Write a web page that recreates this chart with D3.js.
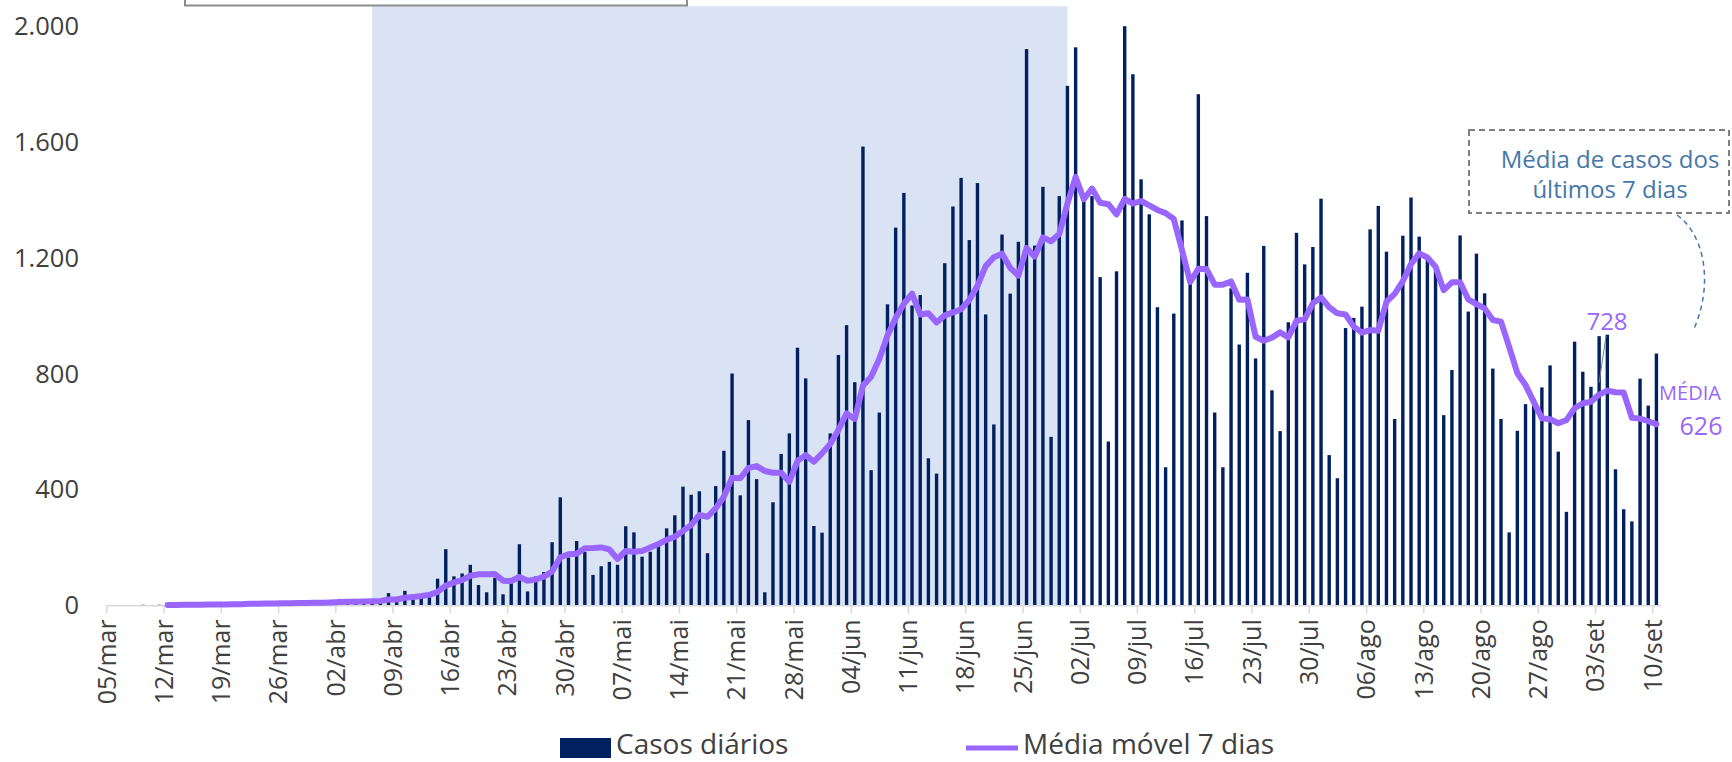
<!DOCTYPE html>
<html><head><meta charset="utf-8">
<script src="https://cdn.jsdelivr.net/npm/d3@7"></script>
<style>body{margin:0;background:#fff;} svg{display:block;font-family:'Open Sans',sans-serif;}</style>
</head><body><svg id="c" width="1732" height="762"></svg>
<script>
// ---- data ----
const startDate = '2020-03-05';
const dailyCases = [
0,1,0,0,2,1,2,1,3,2,
4,2,5,3,6,4,7,5,8,6,
9,7,12,8,10,11,14,9,22,10,
14,18,12,20,42,25,50,38,38,40,
92,194,100,110,140,70,45,95,38,88,
211,48,100,115,218,373,165,222,185,105,
135,150,140,273,252,168,185,216,266,311,
410,382,394,180,412,534,801,380,640,436,
45,356,523,594,890,784,274,251,594,865,
968,771,1585,467,666,1040,1305,1425,1036,1072,
508,455,1182,1378,1477,1262,1459,1005,625,1281,
1077,1256,1922,1243,1446,582,1414,1795,1928,1411,
1414,1134,566,1154,2001,1835,1472,1351,1030,477,
1008,1330,1111,1766,1345,666,477,1095,901,1149,
853,1242,743,602,978,1287,1178,1238,1405,519,
439,958,993,1032,1299,1380,1222,644,1277,1409,
1274,1200,1156,657,813,1278,1015,1215,1078,818,
644,252,603,695,715,753,829,531,323,911,
807,755,930,935,470,332,290,783,690,870];
const movingAvg = [
null,null,null,null,null,null,null,1,1,2,
2,2,3,3,3,4,4,5,5,6,
6,7,7,8,8,9,9,10,11,12,
12,13,14,15,20,20,26,29,32,36,
46,68,79,87,102,107,107,108,85,84,
98,85,89,99,117,166,176,178,197,198,
200,193,160,188,185,188,200,212,226,237,
257,277,312,306,335,375,441,439,475,481,
464,458,458,427,499,519,496,525,557,606,
663,644,759,790,851,932,993,1042,1077,1005,
1009,977,1002,1012,1023,1055,1104,1172,1203,1215,
1166,1139,1234,1205,1271,1258,1283,1388,1480,1403,
1440,1391,1386,1351,1404,1388,1397,1382,1366,1355,
1335,1228,1117,1163,1162,1108,1108,1119,1056,1057,
928,914,925,943,926,983,988,1043,1064,1030,
1009,1005,963,942,951,949,1049,1076,1120,1179,
1216,1202,1170,1089,1116,1116,1057,1041,1026,986,
980,893,802,761,703,646,643,629,640,681,
698,703,728,742,736,735,648,645,636,626];
const xTickLabels = ['05/mar','12/mar','19/mar','26/mar','02/abr','09/abr','16/abr','23/abr','30/abr',
'07/mai','14/mai','21/mai','28/mai','04/jun','11/jun','18/jun','25/jun','02/jul','09/jul','16/jul',
'23/jul','30/jul','06/ago','13/ago','20/ago','27/ago','03/set','10/set'];
const yTicks = [0,400,800,1200,1600,2000];
const seriesNames = ['Casos diários','Média móvel 7 dias'];
const shadedPeriod = ['2020-04-06','2020-06-30'];
const noteLines = ['Média de casos dos','últimos 7 dias'];
const markedAvg = {date:'2020-09-03', text:'728'};
const lastAvgLabel = ['MÉDIA','626'];

// ---- setup ----
const svg = d3.select('#c');
const DAY = 864e5;
const t0 = new Date(startDate + 'T00:00:00Z');
const days = dailyCases.map((v,i)=> new Date(t0.getTime() + i*DAY));
const x = d3.scaleUtc().domain([t0, new Date(t0.getTime()+dailyCases.length*DAY)]).range([106.3, 1660.5]);
const xc = d => x(new Date(d.getTime()+DAY/2));
const y = d3.scaleLinear().domain([0,2000]).range([605.3, 26.5]);
const purple = '#9966FF', navy = '#002060', txt = '#404040';
const fmt = d3.formatLocale({decimal:',',thousands:'.',grouping:[3],currency:['R$','']}).format(',');

// shaded period
const s0 = new Date(shadedPeriod[0]+'T12:00:00Z'), s1 = new Date(shadedPeriod[1]+'T12:00:00Z');
svg.append('rect').attr('x', x(s0)).attr('width', x(s1)-x(s0))
  .attr('y', y(2070)).attr('height', y(0)-y(2070)).attr('fill','#DAE3F3');

// cut-off box at top
svg.append('rect').attr('x',185).attr('y',-20).attr('width',502).attr('height',25.5)
  .attr('fill','none').attr('stroke','#8c8c8c').attr('stroke-width',2);

// bars
svg.append('g').selectAll('rect').data(dailyCases).join('rect')
  .attr('x',(v,i)=>xc(days[i])-1.7).attr('width',3.4)
  .attr('y',v=>y(v)).attr('height',v=>y(0)-y(v)).attr('fill',navy);

// x axis
const tickDates = xTickLabels.map((l,i)=> new Date(t0.getTime()+i*7*DAY));
const gx = svg.append('g').attr('transform',`translate(0,${y(0)})`)
  .call(d3.axisBottom(x).tickValues(tickDates).tickFormat((d,i)=>xTickLabels[i]).tickSize(8).tickSizeOuter(0));
gx.select('.domain').attr('stroke','#d9d9d9').attr('stroke-width',1.5);
gx.selectAll('.tick line').attr('stroke','#d9d9d9').attr('stroke-width',1.5);
gx.selectAll('.tick text').attr('transform','rotate(-90)').attr('x',-14).attr('y',0).attr('dy','0.35em')
  .style('text-anchor','end').attr('fill',txt).style('font-size','25px').style('font-family',"'Open Sans',sans-serif");

// y labels
svg.append('g').selectAll('text').data(yTicks).join('text')
  .attr('x',79).attr('y',v=>y(v)).attr('dy','0.35em').attr('text-anchor','end')
  .attr('fill',txt).style('font-size','25.5px').text(v=>fmt(v));

// moving average line
const line = d3.line().defined(d=>d.v!=null).x(d=>xc(d.t)).y(d=>y(d.v));
svg.append('path').datum(movingAvg.map((v,i)=>({t:days[i],v})))
  .attr('d',line).attr('fill','none').attr('stroke',purple).attr('stroke-width',6)
  .attr('stroke-linejoin','round').attr('stroke-linecap','round');

// note box
svg.append('rect').attr('x',1469).attr('y',130).attr('width',260).attr('height',83)
  .attr('fill','#fff').attr('stroke','#7f7f7f').attr('stroke-width',2).attr('stroke-dasharray','6,4');
svg.append('g').selectAll('text').data(noteLines).join('text')
  .attr('x',1610).attr('y',(d,i)=>160+i*30).attr('dy','0.35em').attr('text-anchor','middle')
  .attr('fill','#4677a8').style('font-size','24px').text(d=>d);
svg.append('path').attr('d','M1677,215 C1705,235 1714,285 1693,331')
  .attr('fill','none').attr('stroke','#4677a8').attr('stroke-width',1.5).attr('stroke-dasharray','5,4');

// marked avg label
const mIdx = days.findIndex(d=>d.toISOString().slice(0,10)===markedAvg.date);
svg.append('line').attr('x1',1606).attr('y1',336).attr('x2',xc(days[mIdx])).attr('y2',y(movingAvg[mIdx])-12)
  .attr('stroke','#7f7f7f').attr('stroke-width',1);
svg.append('text').attr('x',1607).attr('y',322).attr('dy','0.35em').attr('text-anchor','middle')
  .attr('fill',purple).style('font-size','24px').text(markedAvg.text);
svg.append('text').attr('x',1690).attr('y',393).attr('dy','0.35em').attr('text-anchor','middle')
  .attr('fill',purple).style('font-size','20px').text(lastAvgLabel[0]);
svg.append('text').attr('x',1701).attr('y',426).attr('dy','0.35em').attr('text-anchor','middle')
  .attr('fill',purple).style('font-size','25px').text(lastAvgLabel[1]);

// legend
svg.append('rect').attr('x',560).attr('y',738).attr('width',51).attr('height',20).attr('fill',navy);
svg.append('text').attr('x',616).attr('y',745).attr('dy','0.33em').attr('fill',txt).style('font-size','28px').text(seriesNames[0]);
svg.append('line').attr('x1',966).attr('x2',1018).attr('y1',748).attr('y2',748).attr('stroke',purple).attr('stroke-width',5);
svg.append('text').attr('x',1023).attr('y',745).attr('dy','0.33em').attr('fill',txt).style('font-size','28px').text(seriesNames[1]);
</script></body></html>
